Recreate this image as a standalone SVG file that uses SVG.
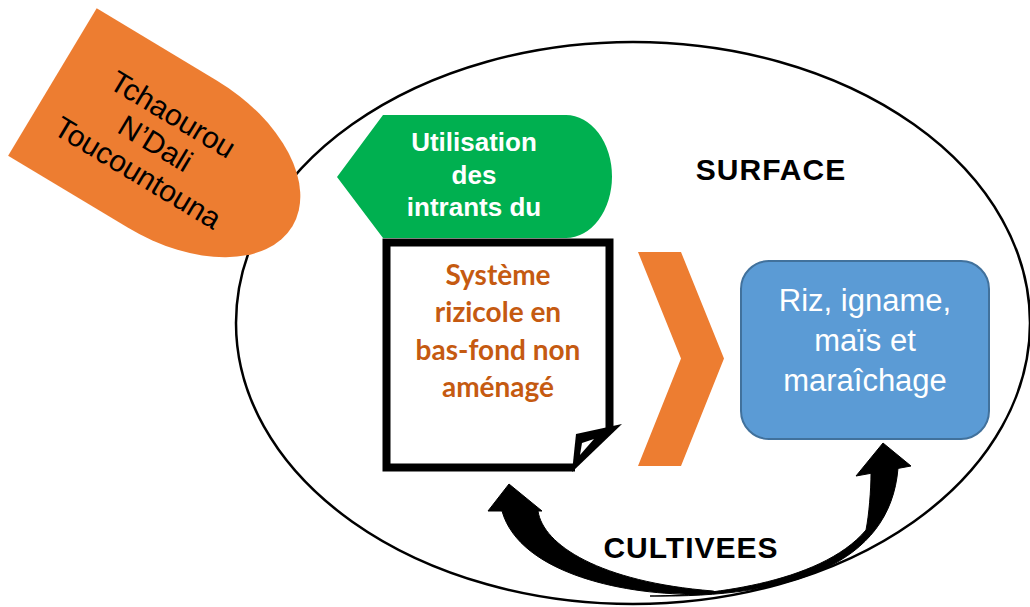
<svg xmlns="http://www.w3.org/2000/svg" width="1030" height="607" viewBox="0 0 1030 607">
<style>
.lbl{font-family:"Liberation Sans",Arial,sans-serif;font-weight:bold;font-size:30px;letter-spacing:1px;fill:#000;text-anchor:middle}
.place{font-family:"Liberation Sans",Arial,sans-serif;font-size:30px;fill:#000;text-anchor:middle}
.green{font-family:"Liberation Sans",Arial,sans-serif;font-weight:bold;font-size:26px;fill:#fff;text-anchor:middle}
.doc{font-family:Lato,"Open Sans",sans-serif;font-weight:bold;font-size:28px;fill:#C55A11;text-anchor:middle}
.blue{font-family:"Liberation Sans",Arial,sans-serif;font-size:31px;fill:#fff;text-anchor:middle}
.arrow{fill:#000;stroke:#000;stroke-width:1;stroke-linejoin:round}
</style>
<rect width="1030" height="607" fill="#fff"/>
<g id="surface">
<ellipse cx="633" cy="323" rx="397" ry="281" fill="#fff" stroke="#000" stroke-width="2.5"/>
<text class="lbl" x="771" y="180">SURFACE</text>
<text class="lbl" x="691" y="558">CULTIVEES</text>
</g>
<g id="localites" transform="translate(96.7,8.3) rotate(31)">
<path d="M0,0 H140 A140,86 0 0 1 140,172 H0 Z" fill="#ED7D31"/>
<text class="place" x="120" y="62">Tchaourou</text>
<text class="place" x="120" y="96">N’Dali</text>
<text class="place" x="120" y="130">Toucountouna</text>
</g>
<g id="intrants">
<path d="M337,177 L383,115 H566 A46,61.5 0 0 1 566,238 H383 Z" fill="#00B050"/>
<text class="green" x="474" y="151">Utilisation</text>
<text class="green" x="474" y="184">des</text>
<text class="green" x="474" y="216">intrants du</text>
</g>
<g id="systeme">
<polygon points="386.5,242.5 609.5,242.5 609.5,430 578,467.5 386.5,467.5" fill="#fff"/>
<path d="M575,467.5 H386.5 V242.5 H609.5 V428" fill="none" stroke="#000" stroke-width="8" stroke-linejoin="miter"/>
<polygon points="576,434 622,424 572,472" fill="#000"/>
<polygon points="582,443 594,439 580,455" fill="#fff"/>
<text class="doc" x="498" y="284.5">Système</text>
<text class="doc" x="498" y="322">rizicole en</text>
<text class="doc" x="498" y="359.7">bas-fond non</text>
<text class="doc" x="498" y="397.4">aménagé</text>
</g>
<g id="chevron">
<polygon points="638,252 681,252 724,358.5 681,466 638,466 681,358.5" fill="#ED7D31"/>
</g>
<g id="cultures">
<rect x="741" y="261" width="248" height="178" rx="28" ry="28" fill="#5B9BD5" stroke="#41719C" stroke-width="2"/>
<text class="blue" x="865" y="311">Riz, igname,</text>
<text class="blue" x="865" y="351">maïs et</text>
<text class="blue" x="865" y="391">maraîchage</text>
</g>
<g id="connectors">
<path class="arrow" d="M509,484 L542,511 L538,511 C543,545 600,582 713,591 L716,592 L700,594 C630,596 520,575 502,511 L488,511 Z"/>
<path class="arrow" d="M883,443 L911,466 L898,468.4 C890,565 790,598 650,596 C700,596 820,585 866,530 C869,515 871,490 871,473.3 L856,476 Z"/>
</g>
</svg>
